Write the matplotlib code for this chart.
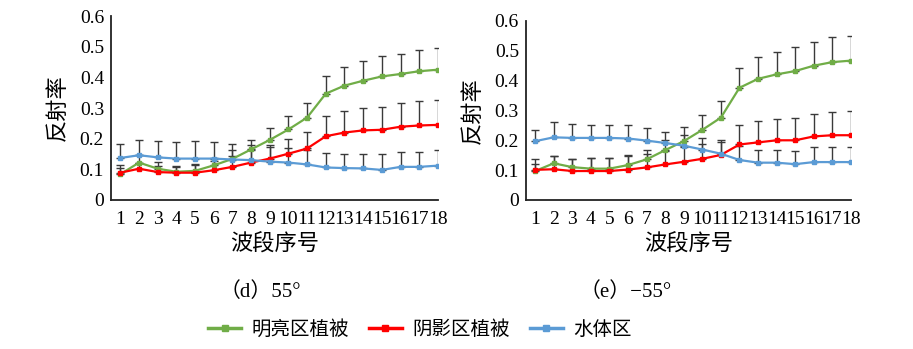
import numpy as np
import matplotlib
matplotlib.use("Agg")
import matplotlib.pyplot as plt
from matplotlib.lines import Line2D

plt.rcParams['font.family'] = ['Liberation Serif', 'Noto Sans CJK SC']

bands = list(range(1, 19))
tick_labels = [str(b) for b in bands]
series_names = ["明亮区植被", "阴影区植被", "水体区"]
series_colors = ["#70AD47", "#FF0000", "#5B9BD5"]

# (d) 55°
d_bright = [0.084, 0.122, 0.102, 0.092, 0.095, 0.113, 0.134, 0.165, 0.196,
            0.230, 0.269, 0.347, 0.373, 0.389, 0.403, 0.411, 0.420, 0.425]
d_bright_err = [0.030, 0.025, 0.022, 0.020, 0.022, 0.025, 0.030, 0.032, 0.038,
                0.043, 0.046, 0.056, 0.062, 0.064, 0.066, 0.066, 0.069, 0.070]
d_shadow = [0.089, 0.102, 0.091, 0.089, 0.089, 0.097, 0.108, 0.122, 0.135,
            0.151, 0.168, 0.208, 0.220, 0.227, 0.229, 0.239, 0.243, 0.245]
d_shadow_err = [0.016, 0.020, 0.020, 0.020, 0.024, 0.030, 0.036, 0.040, 0.043,
                0.048, 0.054, 0.065, 0.069, 0.072, 0.075, 0.076, 0.080, 0.081]
d_water = [0.137, 0.146, 0.139, 0.135, 0.135, 0.135, 0.132, 0.130, 0.125,
           0.122, 0.116, 0.106, 0.104, 0.103, 0.098, 0.108, 0.108, 0.112]
d_water_err = [0.046, 0.051, 0.052, 0.054, 0.056, 0.054, 0.052, 0.050, 0.048,
               0.046, 0.046, 0.046, 0.046, 0.047, 0.051, 0.050, 0.050, 0.050]

# (e) -55°
e_bright = [0.097, 0.123, 0.110, 0.105, 0.105, 0.117, 0.136, 0.167, 0.197,
            0.235, 0.276, 0.376, 0.406, 0.421, 0.432, 0.450, 0.462, 0.467]
e_bright_err = [0.022, 0.026, 0.028, 0.036, 0.036, 0.033, 0.033, 0.035, 0.046,
                0.049, 0.057, 0.066, 0.072, 0.074, 0.080, 0.079, 0.083, 0.084]
e_shadow = [0.101, 0.103, 0.097, 0.097, 0.097, 0.102, 0.109, 0.119, 0.128,
            0.138, 0.151, 0.186, 0.193, 0.200, 0.200, 0.213, 0.217, 0.217]
e_shadow_err = [0.035, 0.046, 0.041, 0.044, 0.044, 0.046, 0.045, 0.045, 0.048,
                0.051, 0.050, 0.065, 0.070, 0.072, 0.074, 0.075, 0.077, 0.080]
e_water = [0.197, 0.210, 0.208, 0.208, 0.208, 0.206, 0.199, 0.191, 0.182,
           0.169, 0.155, 0.134, 0.125, 0.125, 0.120, 0.127, 0.127, 0.127]
e_water_err = [0.038, 0.050, 0.046, 0.044, 0.044, 0.044, 0.042, 0.038, 0.037,
               0.039, 0.040, 0.046, 0.044, 0.044, 0.044, 0.052, 0.052, 0.052]

panels = [
    ([d_bright, d_shadow, d_water], [d_bright_err, d_shadow_err, d_water_err], "（d）55°"),
    ([e_bright, e_shadow, e_water], [e_bright_err, e_shadow_err, e_water_err], "（e）−55°"),
]

fig = plt.figure(figsize=(9.13, 3.49), dpi=100)
ax_d = fig.add_axes([0.1216, 0.427, 0.358, 0.527])
ax_e = fig.add_axes([0.576, 0.427, 0.356, 0.513])

for ax, (vals, errs, title) in zip([ax_d, ax_e], panels):
    # upper error bars only
    for v, e, c in zip(vals, errs, series_colors):
        ax.errorbar(bands, v, yerr=[np.zeros(len(e)), e], fmt='none',
                    ecolor='#3a3a3a', elinewidth=1.0, capsize=3, capthick=1.0)
    for v, c in zip(vals, series_colors):
        ax.plot(bands, v, color=c, lw=1.6, marker='s', markersize=3.5)
    ax.set_xlim(0.5, 18)
    ax.set_ylim(0, 0.6)
    ax.set_xticks(bands)
    ax.set_xticklabels(tick_labels)
    ax.set_yticks([0, 0.1, 0.2, 0.3, 0.4, 0.5, 0.6])
    ax.set_yticklabels(["0", "0.1", "0.2", "0.3", "0.4", "0.5", "0.6"])
    ax.tick_params(length=0, labelsize=14)
    ax.tick_params(axis='x', pad=8)
    ax.tick_params(axis='y', pad=5)
    for s in ['top', 'right']:
        ax.spines[s].set_visible(False)
    for s in ['left', 'bottom']:
        ax.spines[s].set_linewidth(1.3)
        ax.spines[s].set_color('#222222')
    ax.set_xlabel("波段序号", fontsize=16, family=['Noto Sans CJK SC'], labelpad=3)
    ax.set_ylabel("反射率", fontsize=16, family=['Noto Sans CJK SC'], labelpad=8)

fig.text(0.285, 0.163, panels[0][2], fontsize=15, ha='center', va='center')
fig.text(0.685, 0.163, panels[1][2], fontsize=15, ha='center', va='center')

handles = [Line2D([0], [0], color=c, lw=2.5, marker='s', markersize=4)
           for c in series_colors]
fig.legend(handles, series_names, loc='center', bbox_to_anchor=(0.46, 0.055),
           ncol=3, frameon=False, handlelength=1.7, handletextpad=0.55,
           columnspacing=1.0, prop={'family': 'Noto Sans CJK SC', 'size': 14})

fig.savefig("out.png", dpi=100)
